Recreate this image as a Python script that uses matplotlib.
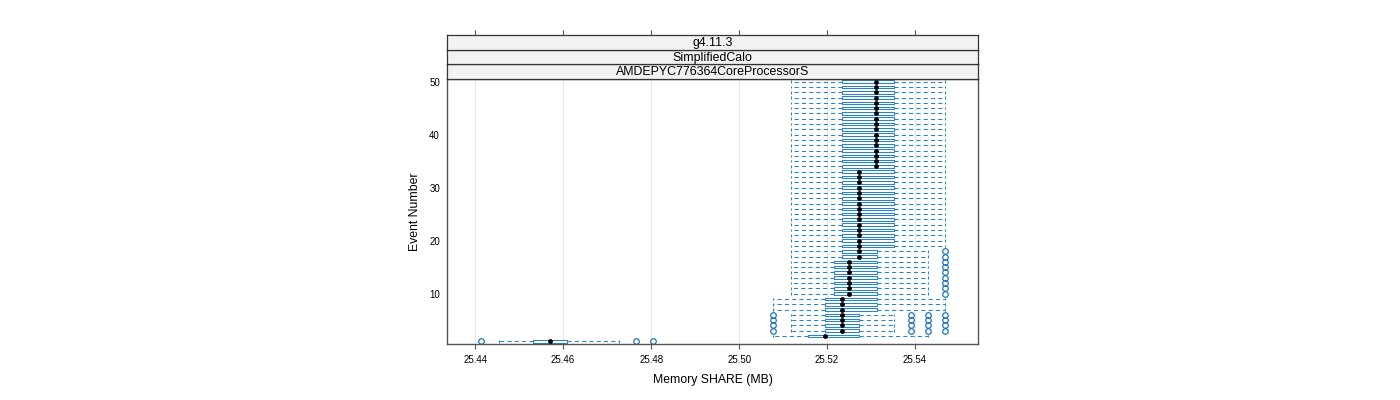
import matplotlib
matplotlib.use("Agg")
import matplotlib.pyplot as plt

plt.rcParams['font.family'] = ['Liberation Sans', 'DejaVu Sans']

# box statistics per event (MB), events 1..50
events = list(range(1, 51))
whislo = [25.44531, 25.50781, 25.51172, 25.51172, 25.51172, 25.51172, 25.50781, 25.50781, 25.50781, 25.51172,
          25.51172, 25.51172, 25.51172, 25.51172, 25.51172, 25.51172, 25.51172, 25.51172, 25.51172, 25.51172,
          25.51172, 25.51172, 25.51172, 25.51172, 25.51172, 25.51172, 25.51172, 25.51172, 25.51172, 25.51172,
          25.51172, 25.51172, 25.51172, 25.51172, 25.51172, 25.51172, 25.51172, 25.51172, 25.51172, 25.51172,
          25.51172, 25.51172, 25.51172, 25.51172, 25.51172, 25.51172, 25.51172, 25.51172, 25.51172, 25.51172]
q1 = [25.45313, 25.51563, 25.51953, 25.51953, 25.51953, 25.51953, 25.51953, 25.51953, 25.51953, 25.52148,
      25.52148, 25.52148, 25.52148, 25.52148, 25.52148, 25.52148, 25.52344, 25.52344, 25.52344, 25.52344,
      25.52344, 25.52344, 25.52344, 25.52344, 25.52344, 25.52344, 25.52344, 25.52344, 25.52344, 25.52344,
      25.52344, 25.52344, 25.52344, 25.52344, 25.52344, 25.52344, 25.52344, 25.52344, 25.52344, 25.52344,
      25.52344, 25.52344, 25.52344, 25.52344, 25.52344, 25.52344, 25.52344, 25.52344, 25.52344, 25.52344]
med = [25.45703, 25.51953, 25.52344, 25.52344, 25.52344, 25.52344, 25.52344, 25.52344, 25.52344, 25.52500,
       25.52500, 25.52500, 25.52500, 25.52500, 25.52500, 25.52500, 25.52734, 25.52734, 25.52734, 25.52734,
       25.52734, 25.52734, 25.52734, 25.52734, 25.52734, 25.52734, 25.52734, 25.52734, 25.52734, 25.52734,
       25.52734, 25.52734, 25.52734, 25.53100, 25.53100, 25.53100, 25.53100, 25.53100, 25.53100, 25.53100,
       25.53100, 25.53100, 25.53100, 25.53100, 25.53100, 25.53100, 25.53100, 25.53100, 25.53100, 25.53100]
q3 = [25.46094, 25.52734, 25.52734, 25.52734, 25.52734, 25.52734, 25.53125, 25.53125, 25.53125, 25.53125,
      25.53125, 25.53125, 25.53125, 25.53125, 25.53125, 25.53125, 25.53125, 25.53125, 25.53516, 25.53516,
      25.53516, 25.53516, 25.53516, 25.53516, 25.53516, 25.53516, 25.53516, 25.53516, 25.53516, 25.53516,
      25.53516, 25.53516, 25.53516, 25.53516, 25.53516, 25.53516, 25.53516, 25.53516, 25.53516, 25.53516,
      25.53516, 25.53516, 25.53516, 25.53516, 25.53516, 25.53516, 25.53516, 25.53516, 25.53516, 25.53516]
whishi = [25.47266, 25.54297, 25.53516, 25.53516, 25.53516, 25.53516, 25.54688, 25.54688, 25.54688, 25.54297,
          25.54297, 25.54297, 25.54297, 25.54297, 25.54297, 25.54297, 25.54297, 25.54297, 25.54688, 25.54688,
          25.54688, 25.54688, 25.54688, 25.54688, 25.54688, 25.54688, 25.54688, 25.54688, 25.54688, 25.54688,
          25.54688, 25.54688, 25.54688, 25.54688, 25.54688, 25.54688, 25.54688, 25.54688, 25.54688, 25.54688,
          25.54688, 25.54688, 25.54688, 25.54688, 25.54688, 25.54688, 25.54688, 25.54688, 25.54688, 25.54688]
fliers = {
    1: [25.44141, 25.47656, 25.48047],
    3: [25.50781, 25.53906, 25.54297, 25.54688],
    4: [25.50781, 25.53906, 25.54297, 25.54688],
    5: [25.50781, 25.53906, 25.54297, 25.54688],
    6: [25.50781, 25.53906, 25.54297, 25.54688],
    10: [25.54688], 11: [25.54688], 12: [25.54688], 13: [25.54688], 14: [25.54688],
    15: [25.54688], 16: [25.54688], 17: [25.54688], 18: [25.54688],
}
strips = ["g4.11.3", "SimplifiedCalo", "AMDEPYC776364CoreProcessorS"]
xticks = [25.44, 25.46, 25.48, 25.50, 25.52, 25.54]
yticks = [10, 20, 30, 40, 50]

blue = "#2a84cc"
frame = "#555555"
xlim = (25.4336, 25.5543)

stats = []
for i, ev in enumerate(events):
    stats.append(dict(whislo=whislo[i], q1=q1[i], med=med[i], q3=q3[i],
                      whishi=whishi[i], fliers=fliers.get(ev, [])))

fig = plt.figure(figsize=(14, 4), dpi=100)
ax = fig.add_axes([0.31929, 0.14, 0.37929, 0.6625])

for t in xticks:
    ax.axvline(t, color="#e8e8e8", lw=0.8, zorder=0)

dash = (0, (4, 3))
ax.bxp(stats, positions=events, widths=0.5, capwidths=0.5, orientation='horizontal',
       showfliers=True, manage_ticks=False,
       boxprops=dict(color=blue, lw=0.75),
       whiskerprops=dict(color=blue, lw=0.75, linestyle=dash),
       capprops=dict(color=blue, lw=0.75, linestyle=dash),
       medianprops=dict(linewidth=0),
       flierprops=dict(marker='o', markersize=4, markerfacecolor='none',
                       markeredgecolor="#1f74bd", markeredgewidth=0.9))
ax.scatter(med, events, s=12, color='black', zorder=5, linewidths=0)

ax.set_xlim(*xlim)
ax.set_ylim(0.5, 50.5)
ax.set_xticks(xticks)
ax.set_xticklabels(["%.2f" % t for t in xticks])
ax.set_yticks(yticks)
ax.tick_params(axis='x', direction='out', length=3.6, width=0.8, color=frame,
               labelsize=7, pad=4)
ax.tick_params(axis='y', length=0, labelsize=7, pad=5)
for s in ax.spines.values():
    s.set_color(frame)
    s.set_linewidth(1)
ax.set_xlabel("Memory SHARE (MB)", fontsize=8.8, labelpad=7)
ax.set_ylabel("Event Number", fontsize=8.8, labelpad=6)

# strips above the panel, innermost first
h = 0.03667
for j, txt in enumerate(reversed(strips)):
    sax = fig.add_axes([0.31929, 0.8025 + j * h, 0.37929, h])
    sax.set_facecolor("#f2f2f2")
    sax.set_xlim(*xlim)
    sax.set_yticks([])
    for s in sax.spines.values():
        s.set_color("#333333")
        s.set_linewidth(0.9)
    sax.text(0.5, 0.45, txt, ha='center', va='center', fontsize=8.9,
             transform=sax.transAxes)
    if j == len(strips) - 1:
        sax.set_xticks(xticks)
        sax.tick_params(axis='x', bottom=False, top=True, labelbottom=False,
                        direction='out', length=3.6, width=0.8, color=frame)
    else:
        sax.set_xticks([])

fig.savefig("out.png", dpi=100)
